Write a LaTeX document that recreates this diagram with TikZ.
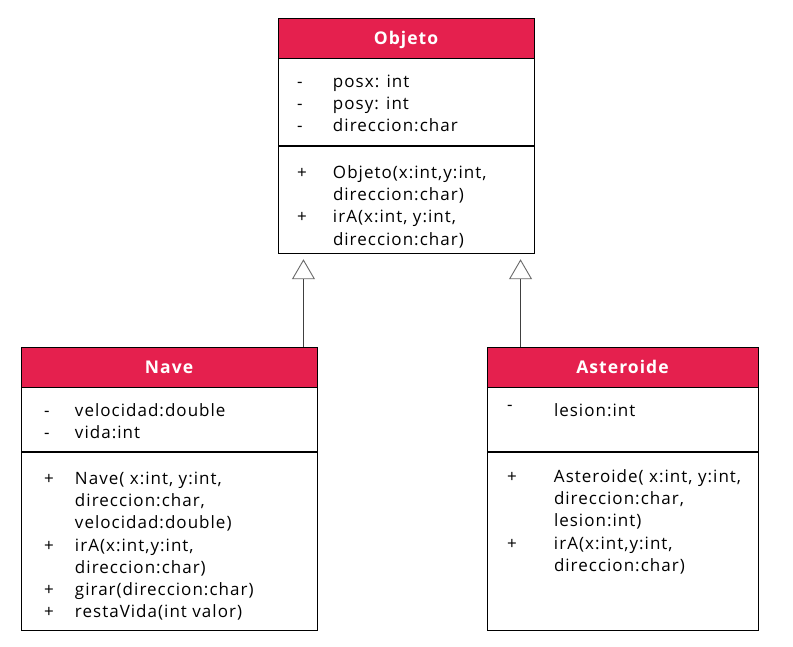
\documentclass[tikz,border=0pt]{standalone}
\usepackage{fontspec}
\setmainfont{Open Sans}[LetterSpace=6]
\usetikzlibrary{positioning,arrows.meta}
\definecolor{umlred}{RGB}{229,32,78}
\definecolor{arrowgray}{RGB}{105,105,105}
\newcommand*{\headtextstyle}{\fontsize{17.5}{20}\selectfont\bfseries\color{white}}
\newcommand*{\parttextstyle}{\fontsize{17}{22.1}\selectfont\color{black}}
\newlength{\markx}
\newlength{\gapx}
% one member line: marker, text
\newcommand{\mrow}[2]{\par\noindent\hspace*{\markx}\makebox[\gapx][l]{\rule{0pt}{16pt}#1}#2}
% continued member line
\newcommand{\mcont}[1]{\par\noindent\hspace*{\markx}\hspace*{\gapx}\rule{0pt}{16pt}#1}
\newcommand{\classpart}[4]{%
   % height, width, first baseline, rows
   \parbox[c][#1][t]{#2}{\parttextstyle\vspace*{\dimexpr#3-16pt\relax}#4}}

\begin{document}
\begin{tikzpicture}[x=1pt, y=1pt,
    classhead/.style={fill=umlred, draw=black, line width=0.9pt,
        font=\headtextstyle, minimum height=40pt, inner sep=0pt,
        text depth=0pt},
    classpart/.style={draw=black, line width=0.9pt, inner sep=0pt,
        below=0pt of #1},
    extends/.style={draw=black!75, line width=0.9pt, shorten >=5pt,
        -{Triangle[open, width=23pt, length=20pt, color=arrowgray]}}]

    \fill[white] (0,0) rectangle (793,647);
    \useasboundingbox (0,0) rectangle (793,647);

    %objeto
    \setlength{\markx}{19pt}\setlength{\gapx}{36pt}
    \node[classhead, minimum width=256pt] (objeto) at (406, 609) {Objeto};
    \node[classpart=objeto] (objeto-attr) {\classpart{87pt}{256pt}{28.5pt}{%
        \mrow{-}{posx: int}
        \mrow{-}{posy: int}
        \mrow{-}{direccion:char}}};
    \node[classpart=objeto-attr] (objeto-ops) {\classpart{107pt}{256pt}{32pt}{%
        \mrow{+}{Objeto(x:int,y:int,}
        \mcont{direccion:char)}
        \mrow{+}{irA(x:int, y:int,}
        \mcont{direccion:char)}}};

    %nave
    \setlength{\markx}{23pt}\setlength{\gapx}{31pt}
    \node[classhead, minimum width=296pt] (nave) at (169, 280) {Nave};
    \node[classpart=nave] (nave-attr) {\classpart{64pt}{296pt}{28.5pt}{%
        \mrow{-}{velocidad:double}
        \mrow{-}{vida:int}}};
    \node[classpart=nave-attr] (nave-ops) {\classpart{178pt}{296pt}{32pt}{%
        \mrow{+}{Nave( x:int, y:int,}
        \mcont{direccion:char,}
        \mcont{velocidad:double)}
        \mrow{+}{irA(x:int,y:int,}
        \mcont{direccion:char)}
        \mrow{+}{girar(direccion:char)}
        \mrow{+}{restaVida(int valor)}}};

    %asteroide
    \setlength{\markx}{20pt}\setlength{\gapx}{47pt}
    \node[classhead, minimum width=271pt] (asteroide) at (622.5, 280) {Asteroide};
    \node[classpart=asteroide] (asteroide-attr) {\classpart{64pt}{271pt}{28.5pt}{%
        \mrow{\raisebox{6pt}{-}}{lesion:int}}};
    \node[classpart=asteroide-attr] (asteroide-ops) {\classpart{178pt}{271pt}{30pt}{%
        \mrow{+}{Asteroide( x:int, y:int,}
        \mcont{direccion:char,}
        \mcont{lesion:int)}
        \mrow{+}{irA(x:int,y:int,}
        \mcont{direccion:char)}}};

    \draw[extends] ([xshift=-14pt]nave.north east)
        -- ([xshift=-14pt]nave.north east |- objeto-ops.south);
    \draw[extends] ([xshift=34pt]asteroide.north west)
        -- ([xshift=34pt]asteroide.north west |- objeto-ops.south);

\end{tikzpicture}
\end{document}
